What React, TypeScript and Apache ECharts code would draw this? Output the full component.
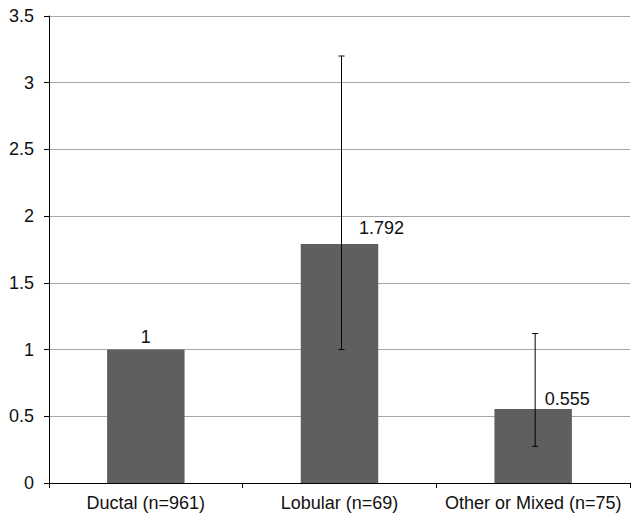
import React, { useEffect, useRef } from "react";
import * as echarts from "echarts";

const categories = ["Ductal (n=961)", "Lobular (n=69)", "Other or Mixed (n=75)"];
const values = [1, 1.792, 0.555];
const valueLabels = ["1", "1.792", "0.555"];
const errLow = [null, 1.0, 0.275];
const errHigh = [null, 3.2, 1.12];
const yTicks = { min: 0, max: 3.5, interval: 0.5 };

const FONT = "Liberation Sans, Arial, sans-serif";

export default function App() {
  const ref = useRef<HTMLDivElement>(null);
  useEffect(() => {
    document.body.style.margin = "0";
    const chart = echarts.init(ref.current!, null, { renderer: "svg" });
    const labelOffsets = [[0, 1], [42, -2], [34, 4]];
    const errData = categories
      .map((_, i) => (errLow[i] == null ? null : [i, errLow[i], errHigh[i]]))
      .filter((d) => d != null);
    chart.setOption({
      animation: false,
      backgroundColor: "#ffffff",
      grid: { left: 49, right: 1, top: 16, bottom: 33 },
      xAxis: {
        type: "category",
        data: categories,
        axisLine: { lineStyle: { color: "#000", width: 1 } },
        axisTick: { show: true, length: 5, lineStyle: { color: "#000" } },
        axisLabel: {
          color: "#111",
          fontSize: 18,
          fontFamily: FONT,
          margin: 11,
          interval: 0,
          hideOverlap: false,
        },
      },
      yAxis: {
        type: "value",
        min: yTicks.min,
        max: yTicks.max,
        interval: yTicks.interval,
        axisLine: { show: true, lineStyle: { color: "#000", width: 1 } },
        axisTick: { show: true, length: 5, lineStyle: { color: "#000" } },
        splitLine: { show: true, lineStyle: { color: "#a6a6a6", width: 1 } },
        axisLabel: {
          color: "#111",
          fontSize: 18,
          fontFamily: FONT,
          margin: 15,
          formatter: (v: number) => String(v),
        },
      },
      series: [
        {
          type: "bar",
          barWidth: "40%",
          data: values.map((v, i) => ({
            value: v,
            label: {
              show: true,
              position: "top",
              offset: labelOffsets[i],
              formatter: valueLabels[i],
              color: "#111",
              fontSize: 18,
              fontFamily: FONT,
              distance: 5,
            },
          })),
          itemStyle: { color: "#5f5f5f" },
          z: 2,
        },
        {
          type: "custom",
          z: 5,
          data: errData,
          renderItem: (params: any, api: any) => {
            const x = api.value(0);
            const lo = api.coord([x, api.value(1)]);
            const hi = api.coord([x, api.value(2)]);
            const cx = lo[0] + 2;
            const cap = 3;
            const style = { stroke: "#000", lineWidth: 1 };
            return {
              type: "group",
              children: [
                { type: "line", shape: { x1: cx, y1: lo[1], x2: cx, y2: hi[1] }, style },
                { type: "line", shape: { x1: cx - cap, y1: hi[1], x2: cx + cap, y2: hi[1] }, style },
                { type: "line", shape: { x1: cx - cap, y1: lo[1], x2: cx + cap, y2: lo[1] }, style },
              ],
            };
          },
        },
      ],
    });
    return () => chart.dispose();
  }, []);
  return <div ref={ref} style={{ width: 631, height: 516 }} />;
}
